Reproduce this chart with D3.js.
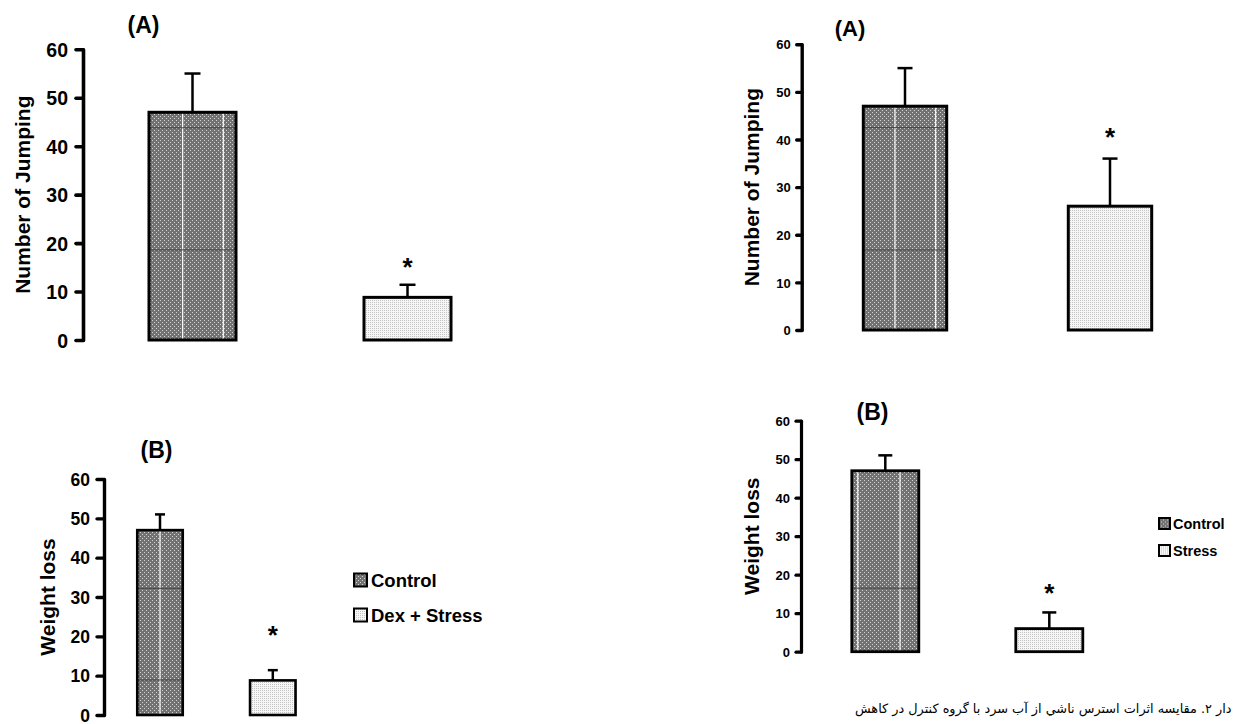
<!DOCTYPE html>
<html><head><meta charset="utf-8">
<script src="https://cdn.jsdelivr.net/npm/d3@7"></script>
<style>body{margin:0;background:#fff;} svg{display:block;}</style>
</head><body><svg id="c" width="1234" height="724"></svg>
<script>
// ---------- data ----------
const groupsDex = ["Control", "Dex + Stress"];
const groupsStress = ["Control", "Stress"];
const yTicks = [0, 10, 20, 30, 40, 50, 60];
const jumpDexMean = [47, 8.8];
const jumpDexErr = [8, 2.6];
const weightDexMean = [47, 8.8];
const weightDexErr = [4, 2.6];
const jumpStressMean = [47, 26];
const jumpStressErr = [8, 10];
const weightStressMean = [47, 6];
const weightStressErr = [4, 4.2];
const panelTitles = ["(A)", "(B)"];
const yLabels = ["Number of Jumping", "Weight loss"];
const significance = [false, true];
const captionText = "دار ۲. مقایسه اثرات استرس ناشي از آب سرد با گروه کنترل در کاهش";

// ---------- layout ----------
const FONT = "'Liberation Sans', Arial, sans-serif";
const panels = [
  {groups: groupsDex, mean: jumpDexMean, err: jumpDexErr, title: panelTitles[0], ylabel: yLabels[0],
   axisX: 83, yRange: [340, 49.3], xRange: [192.5, 407.5], barW: 87, capW: 16, axisW: 3.6, outW: 3,
   tickLen: 7, tickPad: 8, tickFont: 19.5, titlePos: [143.5, 25], titleFont: 23, ylabelX: 22, labelFont: 21,
   starOff: 23, starFont: 26, seamsV: [0.387, 0.854], seamsH: [43.8, 18.6], legend: null},
  {groups: groupsDex, mean: weightDexMean, err: weightDexErr, title: panelTitles[1], ylabel: yLabels[1],
   axisX: 104, yRange: [715, 479], xRange: [160, 272.8], barW: 45.5, capW: 10, axisW: 3.4, outW: 2.6,
   tickLen: 7, tickPad: 7, tickFont: 17.5, titlePos: [156.5, 450], titleFont: 23, ylabelX: 47, labelFont: 21,
   starOff: 40, starFont: 26, seamsV: [0.5], seamsH: [32.2, 8.9],
   legend: {x: 354, ys: [580, 615], box: 13, font: 18.5, gap: 4}},
  {groups: groupsStress, mean: jumpStressMean, err: jumpStressErr, title: panelTitles[0], ylabel: yLabels[0],
   axisX: 801.7, yRange: [330, 44.3], xRange: [905, 1110], barW: 83.4, capW: 15, axisW: 3.4, outW: 3,
   tickLen: 5, tickPad: 6, tickFont: 13, titlePos: [850, 28], titleFont: 22, ylabelX: 751.7, labelFont: 21,
   starOff: 27, starFont: 26, seamsV: [0.38, 0.868], seamsH: [42.5, 16.8], legend: null},
  {groups: groupsStress, mean: weightStressMean, err: weightStressErr, title: panelTitles[1], ylabel: yLabels[1],
   axisX: 801, yRange: [651.7, 420.7], xRange: [885.3, 1049.3], barW: 67, capW: 14, axisW: 3.2, outW: 2.8,
   tickLen: 5, tickPad: 6, tickFont: 13, titlePos: [872.5, 411.7], titleFont: 23, ylabelX: 751.7, labelFont: 21,
   starOff: 25, starFont: 26, seamsV: [0.09, 0.72], seamsH: [16.5],
   legend: {x: 1159, ys: [523.5, 550.5], box: 11, font: 14.5, gap: 3}}
];

const svg = d3.select("#c");
const defs = svg.append("defs");
const pd = defs.append("pattern").attr("id", "darkFill").attr("patternUnits", "userSpaceOnUse")
  .attr("width", 4).attr("height", 4);
pd.append("rect").attr("width", 4).attr("height", 4).attr("fill", "#727272");
pd.append("rect").attr("x", 0).attr("y", 0).attr("width", 1).attr("height", 1).attr("fill", "#d4d4d4");
pd.append("rect").attr("x", 2).attr("y", 2).attr("width", 1).attr("height", 1).attr("fill", "#d4d4d4");
const pl = defs.append("pattern").attr("id", "lightFill").attr("patternUnits", "userSpaceOnUse")
  .attr("width", 2).attr("height", 2);
pl.append("rect").attr("width", 2).attr("height", 2).attr("fill", "#f6f6f6");
pl.append("rect").attr("x", 0).attr("y", 0).attr("width", 1).attr("height", 1).attr("fill", "#c4c4c4");
const fills = ["url(#darkFill)", "url(#lightFill)"];

panels.forEach(p => {
  const g = svg.append("g");
  const y = d3.scaleLinear().domain([0, 60]).range(p.yRange);
  const x = d3.scalePoint().domain(p.groups).range(p.xRange);

  const ax = g.append("g").attr("transform", `translate(${p.axisX},0)`)
    .call(d3.axisLeft(y).tickValues(yTicks).tickSize(p.tickLen).tickSizeOuter(0).tickPadding(p.tickPad));
  ax.select(".domain").attr("stroke", "#000").attr("stroke-width", p.axisW).attr("stroke-linecap", "round");
  ax.selectAll(".tick line").attr("stroke", "#000").attr("stroke-width", p.axisW).attr("stroke-linecap", "round");
  ax.selectAll(".tick text").attr("fill", "#000").attr("font-family", FONT).attr("font-weight", "bold")
    .attr("font-size", p.tickFont).attr("dy", "0.36em");

  const rows = p.groups.map((k, i) => ({k, i, m: p.mean[i], e: p.err[i]}));

  g.selectAll(".eb").data(rows).join("line")
    .attr("x1", d => x(d.k)).attr("x2", d => x(d.k))
    .attr("y1", d => y(d.m)).attr("y2", d => y(d.m + d.e))
    .attr("stroke", "#000").attr("stroke-width", 2.5);
  g.selectAll(".cap").data(rows).join("line")
    .attr("x1", d => x(d.k) - p.capW / 2).attr("x2", d => x(d.k) + p.capW / 2)
    .attr("y1", d => y(d.m + d.e)).attr("y2", d => y(d.m + d.e))
    .attr("stroke", "#000").attr("stroke-width", 2.5);

  g.selectAll(".bar").data(rows).join("rect")
    .attr("x", d => x(d.k) - p.barW / 2).attr("width", p.barW)
    .attr("y", d => y(d.m)).attr("height", d => y(0) - y(d.m))
    .attr("fill", d => fills[d.i]);

  const c0 = rows[0];
  const bx = x(c0.k) - p.barW / 2;
  g.selectAll(".sv").data(p.seamsV).join("line")
    .attr("x1", f => bx + f * p.barW).attr("x2", f => bx + f * p.barW)
    .attr("y1", y(c0.m)).attr("y2", y(0))
    .attr("stroke", "#fff").attr("stroke-width", 1.2);
  g.selectAll(".sh").data(p.seamsH).join("line")
    .attr("x1", bx).attr("x2", bx + p.barW)
    .attr("y1", v => y(v)).attr("y2", v => y(v))
    .attr("stroke", "#444").attr("stroke-width", 1);

  g.selectAll(".barOutline").data(rows).join("rect")
    .attr("x", d => x(d.k) - p.barW / 2).attr("width", p.barW)
    .attr("y", d => y(d.m)).attr("height", d => y(0) - y(d.m))
    .attr("fill", "none").attr("stroke", "#000").attr("stroke-width", p.outW);

  g.selectAll(".star").data(rows.filter(d => significance[d.i])).join("text")
    .attr("x", d => x(d.k)).attr("y", d => y(d.m + d.e) - p.starOff + p.starFont * 0.55)
    .attr("text-anchor", "middle").attr("font-family", FONT).attr("font-weight", "bold")
    .attr("font-size", p.starFont).text("*");

  g.append("text").attr("x", p.titlePos[0]).attr("y", p.titlePos[1]).attr("dy", "0.36em")
    .attr("text-anchor", "middle").attr("font-family", FONT).attr("font-weight", "bold")
    .attr("font-size", p.titleFont).text(p.title);

  const ym = (p.yRange[0] + p.yRange[1]) / 2;
  g.append("text").attr("transform", `translate(${p.ylabelX},${ym}) rotate(-90)`).attr("dy", "0.36em")
    .attr("text-anchor", "middle").attr("font-family", FONT).attr("font-weight", "bold")
    .attr("font-size", p.labelFont).text(p.ylabel);

  if (p.legend) {
    const L = p.legend;
    const lg = g.selectAll(".lg").data(rows).join("g")
      .attr("transform", d => `translate(${L.x},${L.ys[d.i]})`);
    lg.append("rect").attr("x", 0).attr("y", -L.box / 2).attr("width", L.box).attr("height", L.box)
      .attr("fill", d => fills[d.i]).attr("stroke", "#000").attr("stroke-width", 2);
    lg.append("text").attr("x", L.box + L.gap).attr("y", 0).attr("dy", "0.36em")
      .attr("font-family", FONT).attr("font-weight", "bold").attr("font-size", L.font)
      .text(d => d.k);
  }
});

// caption (Persian, right-to-left), fitted into the strip at the bottom right
const capLeft = 855, capRight = 1232, capBase = 713;
const cap = svg.append("text").attr("x", 0).attr("y", capBase)
  .attr("font-family", "'DejaVu Sans', sans-serif").attr("font-size", 15)
  .attr("direction", "rtl").attr("text-anchor", "start").text(captionText);
let bb = cap.node().getBBox();
const fs = 15 * (capRight - capLeft) / bb.width;
cap.attr("font-size", fs);
bb = cap.node().getBBox();
cap.attr("x", capLeft - bb.x);
</script>
</body></html>
